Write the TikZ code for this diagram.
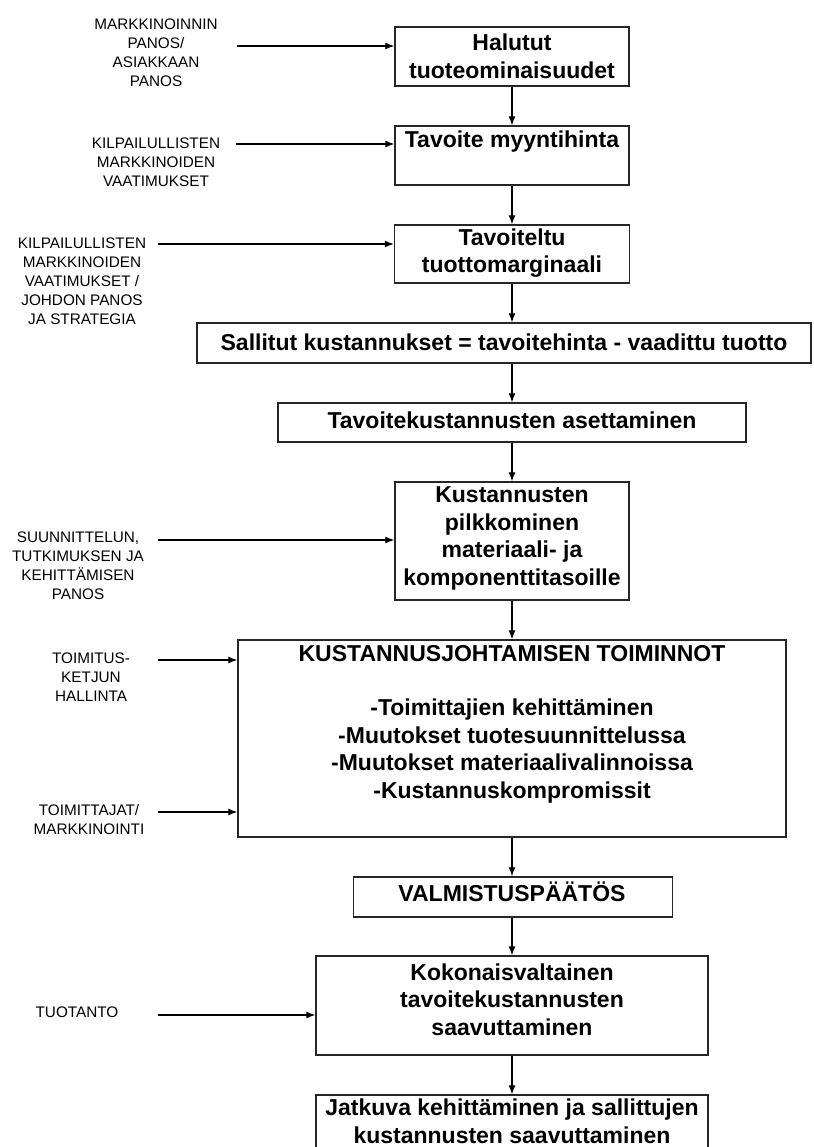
\documentclass[tikz,border=0pt]{standalone}
\usepackage{fontspec}
\setmainfont{Liberation Sans}
\usetikzlibrary{arrows.meta}
\begin{document}
\begin{tikzpicture}[x=1pt,y=-1pt,
  box/.style={draw=black!85, line width=1.4pt, inner sep=0pt},
  btext/.style={font=\fontsize{23}{27.5}\selectfont\bfseries, align=center, inner sep=0pt},
  ltext/.style={font=\fontsize{15.3}{19}\selectfont, align=center, inner sep=0pt},
  flow/.style={-{Latex[length=9pt,width=7pt]}, line width=1.1pt},
]
\useasboundingbox (0,0) rectangle (813,1147);
\clip (0,0) rectangle (813,1147);

% process boxes
\node[box, minimum width=234pt, minimum height=59pt]  (b1)  at (512,56.5)  {};
\node[box, minimum width=234pt, minimum height=59pt]  (b2)  at (512,155.5) {};
\node[box, minimum width=235pt, minimum height=58pt]  (b3)  at (512,254)   {};
\node[box, minimum width=614pt, minimum height=40pt]  (b4)  at (504,343)   {};
\node[box, minimum width=468pt, minimum height=39pt]  (b5)  at (512,422.5) {};
\node[box, minimum width=234pt, minimum height=118pt] (b6)  at (512,541)   {};
\node[box, minimum width=548pt, minimum height=197pt] (b7)  at (512,738.5) {};
\node[box, minimum width=319pt, minimum height=40pt]  (b8)  at (513,897)   {};
\node[box, minimum width=392pt, minimum height=99pt]  (b9)  at (512,1005.5){};
\node[box, minimum width=392pt, minimum height=70pt]  (b10) at (512,1130)  {};

% box texts
\node[btext] (t1)  at (512,56.5) {Halutut\\tuoteominaisuudet};
\node[btext] (t2)  at (512,142)  {Tavoite myyntihinta};
\node[btext] (t3)  at (512,253)  {Tavoiteltu\\tuottomarginaali};
\node[btext] (t4)  at (504,342)  {Sallitut kustannukset = tavoitehinta - vaadittu tuotto};
\node[btext] (t5)  at (512,420)  {Tavoitekustannusten asettaminen};
\node[btext] (t6)  at (512,538.5){Kustannusten\\pilkkominen\\materiaali- ja\\komponenttitasoille};
\node[btext] (t7a) at (512,654)  {KUSTANNUSJOHTAMISEN TOIMINNOT};
\node[btext] (t7b) at (512,751)  {-Toimittajien kehittäminen\\-Muutokset tuotesuunnittelussa\\-Muutokset materiaalivalinnoissa\\-Kustannuskompromissit};
\node[btext] (t8)  at (512,892)  {VALMISTUSPÄÄTÖS};
\node[btext] (t9)  at (512,999.5){Kokonaisvaltainen\\tavoitekustannusten\\saavuttaminen};
\node[btext] (t10) at (512,1121.5) {Jatkuva kehittäminen ja sallittujen\\kustannusten saavuttaminen};

% input labels
\node[ltext] (l1) at (156,52.5) {MARKKINOINNIN\\PANOS/\\ASIAKKAAN\\PANOS};
\node[ltext] (l2) at (156,162)  {KILPAILULLISTEN\\MARKKINOIDEN\\VAATIMUKSET};
\node[ltext] (l3) at (82,281)   {KILPAILULLISTEN\\MARKKINOIDEN\\VAATIMUKSET /\\JOHDON PANOS\\JA STRATEGIA};
\node[ltext] (l4) at (78,566)   {SUUNNITTELUN,\\TUTKIMUKSEN JA\\KEHITTÄMISEN\\PANOS};
\node[ltext] (l5) at (91,677)   {TOIMITUS-\\KETJUN\\HALLINTA};
\node[ltext] (l6) at (89,819.5) {TOIMITTAJAT/\\MARKKINOINTI};
\node[ltext] (l7) at (77,1012)  {TUOTANTO};

% input arrow tails
\coordinate (s1) at (237,46);
\coordinate (s2) at (236,144);
\coordinate (s3) at (158,244);
\coordinate (s4) at (158,540);
\coordinate (s5) at (158,660);
\coordinate (s6) at (158,812);
\coordinate (s7) at (158,1015);

\draw[flow] (s1) -- (s1 -| b1.west);
\draw[flow] (s2) -- (s2 -| b2.west);
\draw[flow] (s3) -- (s3 -| b3.west);
\draw[flow] (s4) -- (s4 -| b6.west);
\draw[flow] (s5) -- (s5 -| b7.west);
\draw[flow] (s6) -- (s6 -| b7.west);
\draw[flow] (s7) -- (s7 -| b9.west);

% main flow
\draw[flow] (b1.south) -- (b2.north);
\draw[flow] (b2.south) -- (b3.north);
\draw[flow] (b3.south) -- (b3.south |- b4.north);
\draw[flow] (b5.north |- b4.south) -- (b5.north);
\draw[flow] (b5.south) -- (b6.north);
\draw[flow] (b6.south) -- (b7.north);
\draw[flow] (b7.south) -- (b7.south |- b8.north);
\draw[flow] (b9.north |- b8.south) -- (b9.north);
\draw[flow] (b9.south) -- (b10.north);
\end{tikzpicture}
\end{document}
